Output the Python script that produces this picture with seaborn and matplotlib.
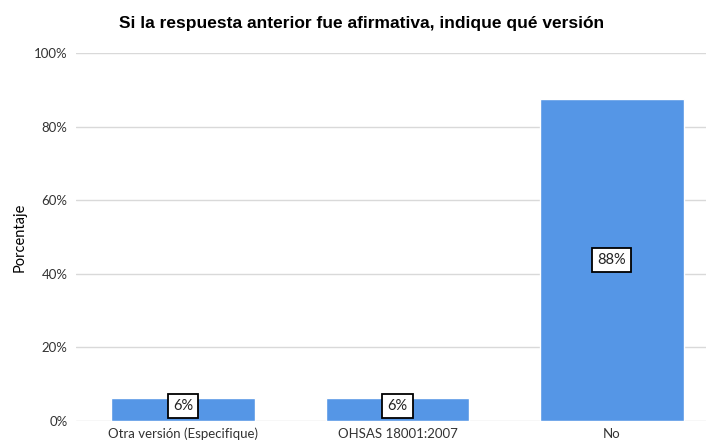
import matplotlib
matplotlib.use("Agg")
import matplotlib.pyplot as plt
import seaborn as sns
import pandas as pd
from matplotlib.ticker import PercentFormatter

categories = ["Otra versión (Especifique)", "OHSAS 18001:2007", "No"]
values = [6.25, 6.25, 87.5]
labels = ["6%", "6%", "88%"]

sns.set_theme(style="white")
plt.rcParams['font.family'] = ['Lato', 'DejaVu Sans']

df = pd.DataFrame({"cat": categories, "val": values})

fig = plt.figure(figsize=(7.06, 4.46), dpi=100)
ax = fig.add_axes([76/706, 1-421/446, 1-76/706, (421-53)/446])

sns.barplot(data=df, x="cat", y="val", color="#5596E6", saturation=1, width=0.67, ax=ax, zorder=3)

ax.set_ylim(0, 100)
ax.set_xlim(-0.5, 2.44)
ax.set_yticks([0, 20, 40, 60, 80, 100])
ax.yaxis.set_major_formatter(PercentFormatter(decimals=0))
ax.grid(axis="y", color="#D9D9D9", linewidth=1, zorder=0)
for s in ax.spines.values():
    s.set_visible(False)
ax.tick_params(axis="both", length=0, labelsize=9.5, colors="#333333", pad=6)
ax.tick_params(axis="x", pad=5)
ax.set_xlabel("")
ax.set_ylabel("Porcentaje", fontsize=10.5, color="black", labelpad=5)

for i, (v, lab) in enumerate(zip(values, labels)):
    ax.text(i, v/2 + (1.0 if v < 10 else 0), lab, ha="center", va="center", fontsize=10.5, color="#222222",
            bbox=dict(boxstyle="square,pad=0.35", fc="white", ec="black", lw=1.3), zorder=5)

fig.text(0.512, 0.948, "Si la respuesta anterior fue afirmativa, indique qué versión",
         ha="center", va="center", fontsize=12.5, fontweight="bold", color="black",
         family=['Liberation Sans', 'DejaVu Sans'])

fig.savefig("out.png", dpi=100)
